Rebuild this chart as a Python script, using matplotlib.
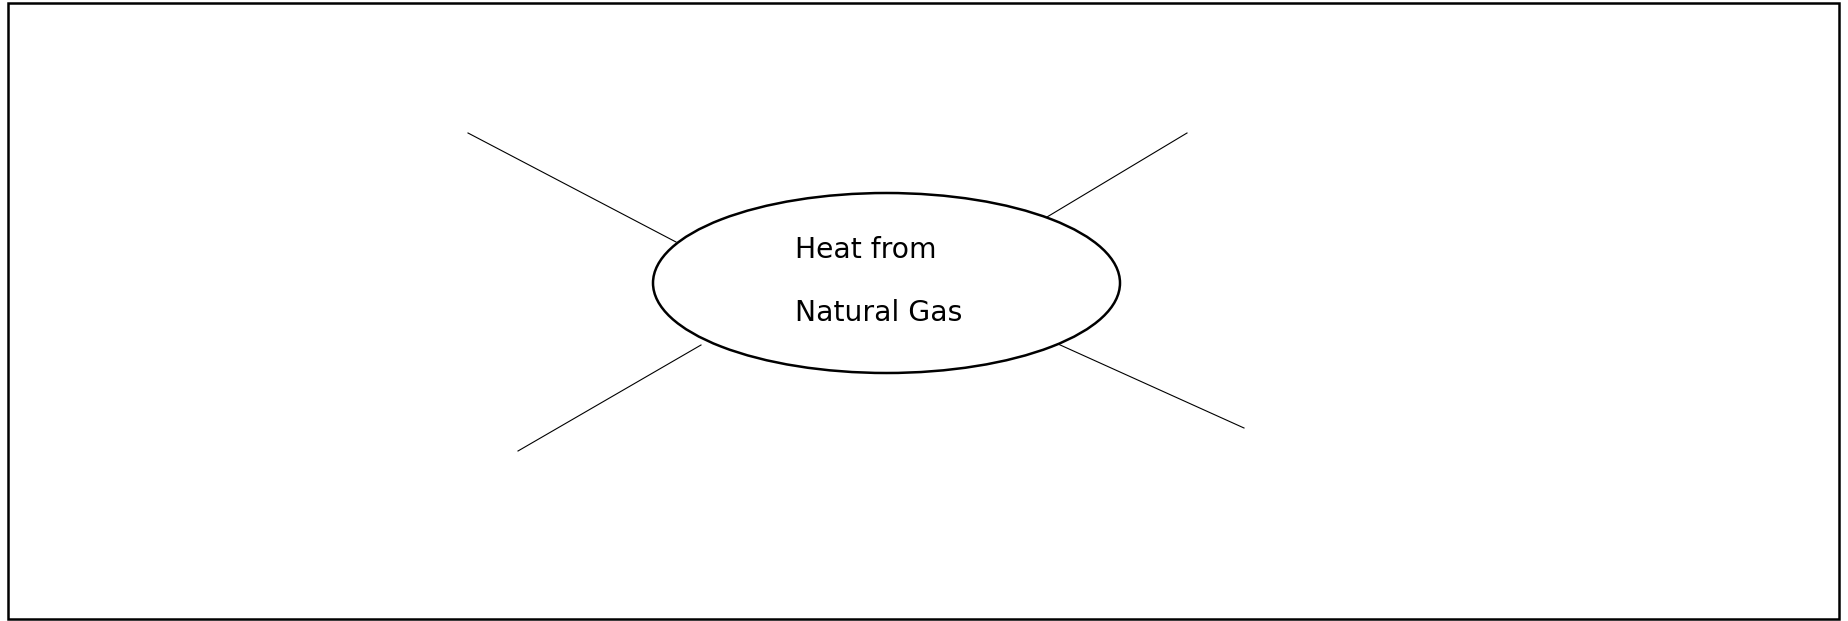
import matplotlib.pyplot as plt
from matplotlib.patches import Ellipse, Rectangle

# canvas in pixel units (y runs downward)
W, H = 1848, 621

# spokes: start and end points
spoke_x0 = [468, 1047, 518, 1058]
spoke_y0 = [133, 217, 451, 344]
spoke_x1 = [676, 1187, 701, 1244]
spoke_y1 = [242, 133, 345, 428]

# central bubble
bubble_center = (886.5, 283)
bubble_size = (467, 180)
bubble_lines = ['Heat from', 'Natural Gas']
bubble_text_y = [250, 313]

fig = plt.figure(figsize=(W / 100, H / 100), dpi=100)
ax = fig.add_axes([0, 0, 1, 1])
ax.set_xlim(0, W)
ax.set_ylim(H, 0)
ax.axis('off')

ax.add_patch(Rectangle((8, 3), 1831, 616, fill=False, ec='black', lw=1.8))

for x0, y0, x1, y1 in zip(spoke_x0, spoke_y0, spoke_x1, spoke_y1):
    ax.plot([x0, x1], [y0, y1], color='black', lw=0.8)

ax.add_patch(Ellipse(bubble_center, *bubble_size, fc='white', ec='black', lw=1.8))

for txt, y in zip(bubble_lines, bubble_text_y):
    ax.text(795, y, txt, fontsize=20.3, family='DejaVu Sans', va='center', ha='left')

fig.savefig('out.png', dpi=100)
